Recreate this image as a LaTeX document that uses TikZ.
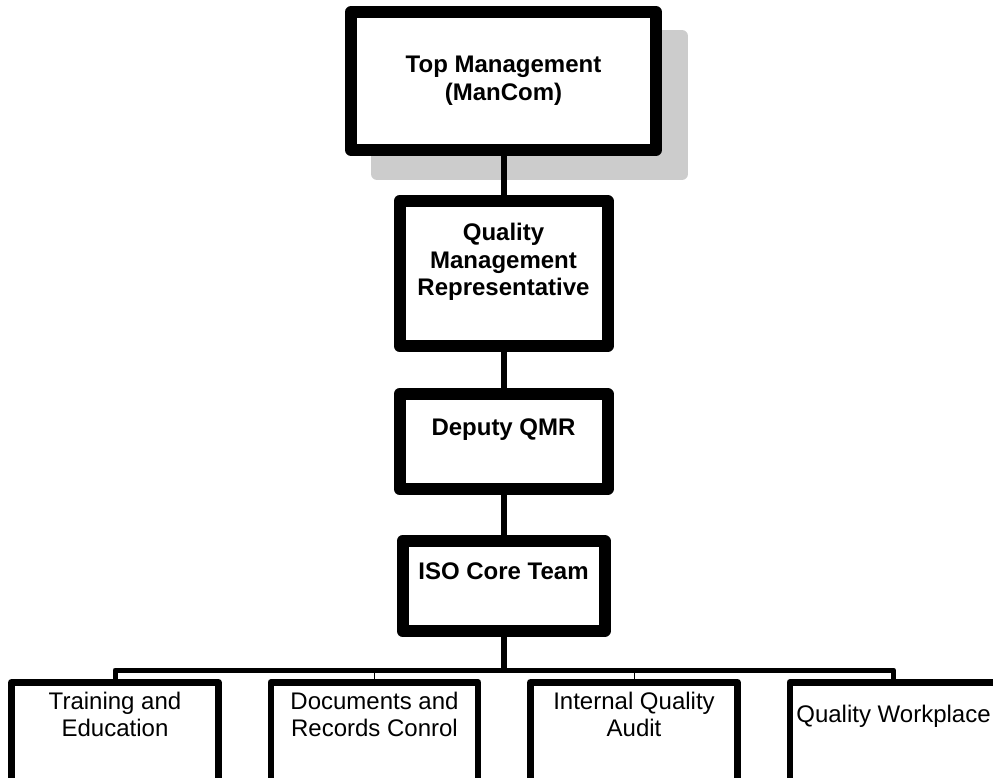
\documentclass[tikz,border=0pt]{standalone}
\usepackage{fontspec}
\setmainfont{Liberation Sans}
\usetikzlibrary{positioning,shadows}

\begin{document}
\begin{tikzpicture}[x=1pt, y=-1pt, node distance=39pt and 46pt,
    every node/.style={inner sep=0pt},
    mainbox/.style={rectangle,draw,line width=12pt,line join=round,fill=white},
    lowbox/.style={rectangle,draw,line width=6.5pt,line join=round,fill=white,minimum width=207pt,minimum height=140pt},
    boldtxt/.style={font=\bfseries\fontsize{24}{27.5}\selectfont,align=center,anchor=north},
    plaintxt/.style={font=\fontsize{24}{27}\selectfont,align=center,anchor=north},
    conn/.style={line width=6pt},
    bus/.style={line width=5pt,line join=round},
    tick/.style={line width=1pt}]
  \useasboundingbox (0,0) rectangle (993,778);
  \clip (0,0) rectangle (993,778);

  \node[mainbox,minimum width=305pt,minimum height=138pt,
        general shadow={fill=black!20,draw=black!20,line width=12pt,shadow xshift=26pt,shadow yshift=-24pt},
        label={[boldtxt,yshift=-50pt]north:{Top Management\\(ManCom)}}] (top) at (503.5,81) {};
  \node[mainbox,minimum width=208pt,minimum height=145pt,
        label={[boldtxt,yshift=-28pt]north:{Quality\\Management\\Representative}}] (qmr) [below=of top] {};
  \node[mainbox,minimum width=208pt,minimum height=95pt,
        label={[boldtxt,yshift=-31pt]north:{Deputy QMR}}] (dqmr) [below=36pt of qmr] {};
  \node[mainbox,minimum width=202pt,minimum height=90pt,
        label={[boldtxt,yshift=-28pt]north:{ISO Core Team}}] (core) [below=40pt of dqmr] {};

  \node[lowbox,anchor=north,label={[plaintxt,yshift=-13pt]north:{Training and\\Education}}] (train) at (115,679) {};
  \node[lowbox,label={[plaintxt,yshift=-13pt]north:{Documents and\\Records Conrol}}] (docs) [right=of train] {};
  \node[lowbox,label={[plaintxt,yshift=-13pt]north:{Internal Quality\\Audit}}] (audit) [right=of docs] {};
  \node[lowbox,label={[plaintxt,yshift=-26pt]north:{Quality Workplace}}] (work) [right=of audit] {};

  \coordinate (busl) at ([yshift=9pt]train.north);

  \draw[conn] (top) -- (qmr);
  \draw[conn] (qmr) -- (dqmr);
  \draw[conn] (dqmr) -- (core);
  \draw[conn] (core) -- (core |- busl);

  \draw[bus] (train.north) -- (busl) -| (work.north);
  \draw[tick] (docs.north) -- (docs.north |- busl);
  \draw[tick] (audit.north) -- (audit.north |- busl);
\end{tikzpicture}
\end{document}
